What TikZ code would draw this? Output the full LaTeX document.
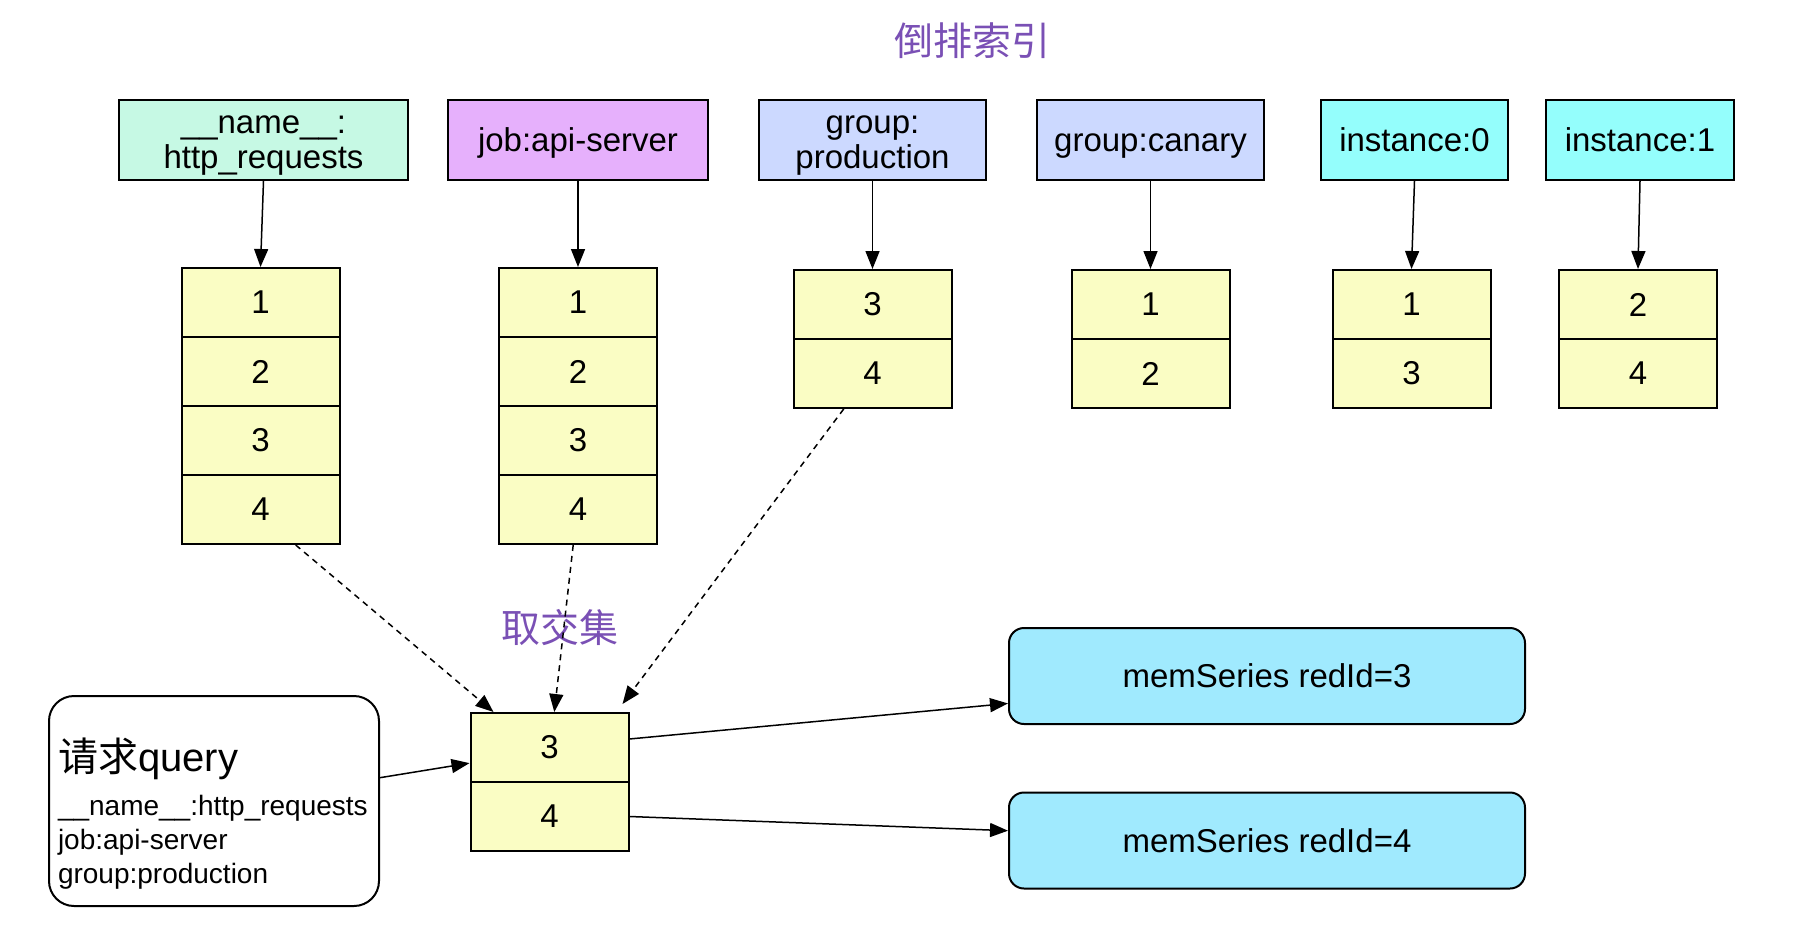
\documentclass[tikz,border=0pt]{standalone}
\usepackage{fontspec}
\setmainfont{Liberation Sans}
\newfontfamily\cjk{Noto Sans CJK SC}
\usepackage{xcolor}
\usetikzlibrary{positioning,calc,arrows.meta}

\definecolor{mintfill}{RGB}{198,249,228}
\definecolor{jobfill}{RGB}{230,176,252}
\definecolor{groupfill}{RGB}{204,217,255}
\definecolor{instfill}{RGB}{148,254,252}
\definecolor{cellfill}{RGB}{250,253,196}
\definecolor{seriesfill}{RGB}{160,234,254}
\definecolor{titlepurple}{RGB}{122,80,181}

% line box struts (ascent / descent of the font)
\newcommand{\topstrut}{\rule{0pt}{0.905em}}
\newcommand{\botstrut}{\rule[-0.212em]{0pt}{0.212em}}

\tikzset{
  labelbox/.style={draw, line width=1pt, minimum height=40pt, inner sep=0pt, align=center, font=\fontsize{16.5}{17.5}\selectfont},
  cell/.style={draw, line width=1pt, fill=cellfill, minimum width=79pt, minimum height=34.5pt, inner sep=0pt, font=\fontsize{16.5}{19}\selectfont},
  series/.style={draw, line width=1pt, fill=seriesfill, rounded corners=7.5pt, minimum width=258pt, minimum height=48pt, font=\fontsize{16.5}{19}\selectfont},
  arr/.style={line width=0.75pt, -{Triangle[length=9pt,width=7pt]}},
  darr/.style={arr, dash pattern=on 3pt off 2.5pt},
  cjktitle/.style={text=titlepurple, font=\cjk\fontsize{19.5}{22}\selectfont}
}

\begin{document}
\begin{tikzpicture}[x=0.5pt,y=-0.5pt]
      \fill[white] (0,0) rectangle (1800,938);
      \useasboundingbox (0,0) rectangle (1800,938);

      \node[cjktitle] (title) at (972,41) {倒排索引};

      % label boxes
      \node[labelbox, fill=mintfill, minimum width=144.5pt] (lname) at (263.5,140) {\topstrut\_\_name\_\_:\\http\_requests\botstrut};
      \node[labelbox, fill=jobfill, minimum width=130pt] (ljob) at (578,140) {\topstrut job:api-server\botstrut};
      \node[labelbox, fill=groupfill, minimum width=113.5pt] (lprod) at (872.5,140) {\topstrut group:\\production\botstrut};
      \node[labelbox, fill=groupfill, minimum width=113.5pt] (lcanary) at (1150.5,140) {\topstrut group:canary\botstrut};
      \node[labelbox, fill=instfill, minimum width=93.5pt] (linst0) at (1414.5,140) {\topstrut instance:0\botstrut};
      \node[labelbox, fill=instfill, minimum width=94pt] (linst1) at (1640,140) {\topstrut instance:1\botstrut};

      % posting lists
      \foreach \v [count=\i] in {1,2,3,4}
        \node[cell] (a\i) at (260.5,233.5+69*\i) {\v};
      \foreach \v [count=\i] in {1,2,3,4}
        \node[cell] (b\i) at (578,233.5+69*\i) {\v};
      \foreach \v [count=\i] in {3,4}
        \node[cell] (c\i) at (872.5,235.5+69*\i) {\v};
      \foreach \v [count=\i] in {1,2}
        \node[cell] (d\i) at (1150.5,235.5+69*\i) {\v};
      \foreach \v [count=\i] in {1,3}
        \node[cell] (e\i) at (1411.5,235.5+69*\i) {\v};
      \foreach \v [count=\i] in {2,4}
        \node[cell] (f\i) at (1638,235.5+69*\i) {\v};

      \draw[arr] (lname.south) -- (a1.north);
      \draw[arr] (ljob.south) -- (b1.north);
      \draw[arr] (lprod.south) -- (c1.north);
      \draw[arr] (lcanary.south) -- (d1.north);
      \draw[arr] (linst0.south) -- (e1.north);
      \draw[arr] (linst1.south) -- (f1.north);

      % intersection
      \node[cjktitle] (isect) at (560,628) {取交集};
      \foreach \v [count=\i] in {3,4}
        \node[cell] (r\i) at (549.5,678.5+69*\i) {\v};

      \draw[darr] ($(a4.south west)!0.72!(a4.south east)$) -- ($(r1.north west)!0.15!(r1.north east)$);
      \draw[darr] ($(b4.south west)!0.47!(b4.south east)$) -- ($(r1.north west)!0.53!(r1.north east)$);
      \draw[darr] ($(c2.south west)!0.32!(c2.south east)$) -- ([shift={(-7,-8)}]r1.north east);

      % query
      \node[draw, line width=1pt, rounded corners=12.5pt, inner xsep=4.5pt, inner ysep=0pt] (query) at (214,801)
        {\parbox[c][105pt][t]{156pt}{\raggedright\vspace*{21pt}%
          \fontsize{20}{24}\selectfont{\cjk 请求}query\par\vspace{5pt}%
          \fontsize{14}{17}\selectfont\_\_name\_\_:http\_requests\\job:api-server\\group:production}};
      \draw[arr] ($(query.north east)!0.39!(query.south east)$) -- ($(r1.north west)!0.72!(r1.south west)$);

      % series
      \node[series] (m3) at (1267,676) {memSeries redId=3};
      \node[series] (m4) at (1267,840.5) {memSeries redId=4};
      \draw[arr] ($(r1.north east)!0.38!(r1.south east)$) -- ($(m3.north west)!0.78!(m3.south west)$);
      \draw[arr] (r2.east) -- ($(m4.north west)!0.40!(m4.south west)$);
\end{tikzpicture}
\end{document}
